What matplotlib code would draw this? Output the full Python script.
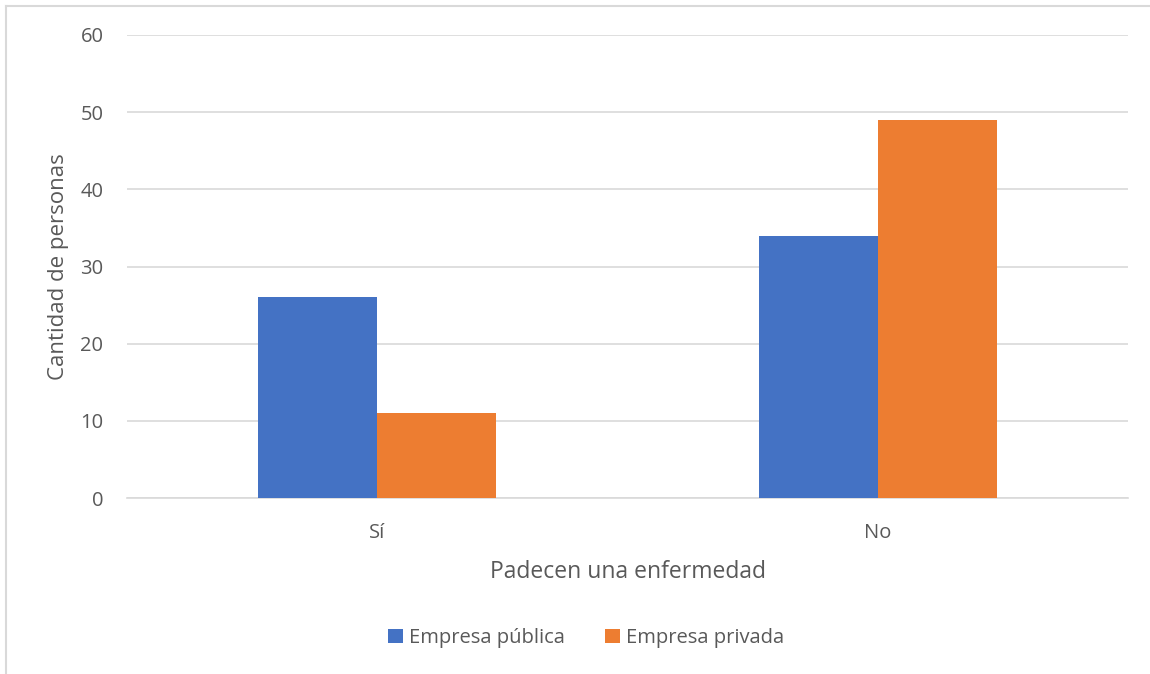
import matplotlib
matplotlib.use("Agg")
import matplotlib.pyplot as plt
from matplotlib.lines import Line2D
import numpy as np

categories = ["Sí", "No"]
publica = [26, 34]
privada = [11, 49]
series_names = ["Empresa pública", "Empresa privada"]
colors = ["#4472C4", "#ED7D31"]
yticks = [0, 10, 20, 30, 40, 50, 60]

plt.rcParams['font.family'] = ['Open Sans', 'DejaVu Sans']
W, H = 1150, 674
fig = plt.figure(figsize=(W/100, H/100), dpi=100)
ax = fig.add_axes([127/W, 1-498/H, (1128-127)/W, (498-35)/H])

x = np.arange(len(categories))
bw = 0.2375
ax.bar(x - bw/2, publica, bw, color=colors[0], label=series_names[0], zorder=3)
ax.bar(x + bw/2, privada, bw, color=colors[1], label=series_names[1], zorder=3)

ax.set_xlim(-0.5, 1.5)
ax.set_ylim(0, 60)
ax.set_yticks(yticks)
ax.set_xticks(x)
ax.set_xticklabels(categories)
ax.grid(axis='y', color='#d9d9d9', linewidth=1.2, zorder=0)
for s in ['top', 'right', 'left']:
    ax.spines[s].set_visible(False)
ax.spines['bottom'].set_color('#d9d9d9')
ax.spines['bottom'].set_linewidth(1.2)
ax.tick_params(axis='both', length=0, labelsize=14.5, labelcolor='#595959')
ax.tick_params(axis='y', pad=17)
ax.tick_params(axis='x', pad=18)
ax.set_xlabel("Padecen una enfermedad", fontsize=16.5, color='#595959', labelpad=12)
ax.set_ylabel("Cantidad de personas", fontsize=16, color='#595959', labelpad=8)

leg = ax.legend(loc='center', bbox_to_anchor=(586/W, 1 - 638/H),
                bbox_transform=fig.transFigure, ncol=2, frameon=False,
                fontsize=14.5, handlelength=0.75, handleheight=0.75,
                handletextpad=0.3, columnspacing=2.0, labelcolor='#595959')

fig.add_artist(Line2D([6/W, 6/W], [0, 1-6/H], transform=fig.transFigure, color='#d9d9d9', linewidth=1.5))
fig.add_artist(Line2D([6/W, 1], [1-6/H, 1-6/H], transform=fig.transFigure, color='#d9d9d9', linewidth=1.5))

fig.savefig("out.png", dpi=100)
